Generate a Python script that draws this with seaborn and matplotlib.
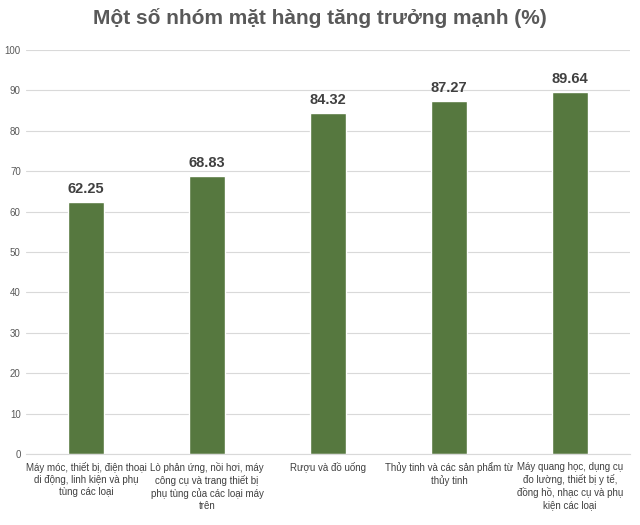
import matplotlib
matplotlib.use("Agg")
import matplotlib.pyplot as plt
import seaborn as sns
import pandas as pd

categories = ["Máy móc, thiết bị, điện thoại\ndi động, linh kiện và phụ\ntùng các loại",
              "Lò phản ứng, nồi hơi, máy\ncông cụ và trang thiết bị\nphụ tùng của các loại máy\ntrên",
              "Rượu và đồ uống",
              "Thủy tinh và các sản phẩm từ\nthủy tinh",
              "Máy quang học, dụng cụ\nđo lường, thiết bị y tế,\nđồng hồ, nhạc cụ và phụ\nkiện các loại"]
values = [62.25, 68.83, 84.32, 87.27, 89.64]
df = pd.DataFrame({"cat": categories, "val": values})

sns.set_style("white")
plt.rcParams['font.family'] = ['Liberation Sans', 'DejaVu Sans']
fig, ax = plt.subplots(figsize=(6.4, 5.25), dpi=100)
sns.barplot(data=df, x="cat", y="val", color="#548235", width=0.3, ax=ax)
ax.set_ylim(0, 100)
ax.set_yticks(range(0, 101, 10))
ax.yaxis.grid(True, color="#d9d9d9", lw=0.8)
ax.set_axisbelow(True)
for s in ["top", "right", "left"]:
    ax.spines[s].set_visible(False)
ax.spines["bottom"].set_color("#d9d9d9")
ax.tick_params(axis="y", length=0, labelsize=7, colors="#595959")
ax.tick_params(axis="x", length=0, labelsize=7, colors="#404040", pad=6)
ax.set_xlabel(""); ax.set_ylabel("")
for i, v in enumerate(values):
    ax.text(i, v + 1.5, f"{v:.2f}", ha="center", va="bottom", fontsize=10.5, fontweight="bold", color="#404040")
fig.suptitle("Một số nhóm mặt hàng tăng trưởng mạnh (%)", fontsize=15, fontweight="bold", color="#595959", y=0.985)
fig.subplots_adjust(left=0.04, right=0.985, top=0.905, bottom=0.135)
fig.savefig("out.png")
